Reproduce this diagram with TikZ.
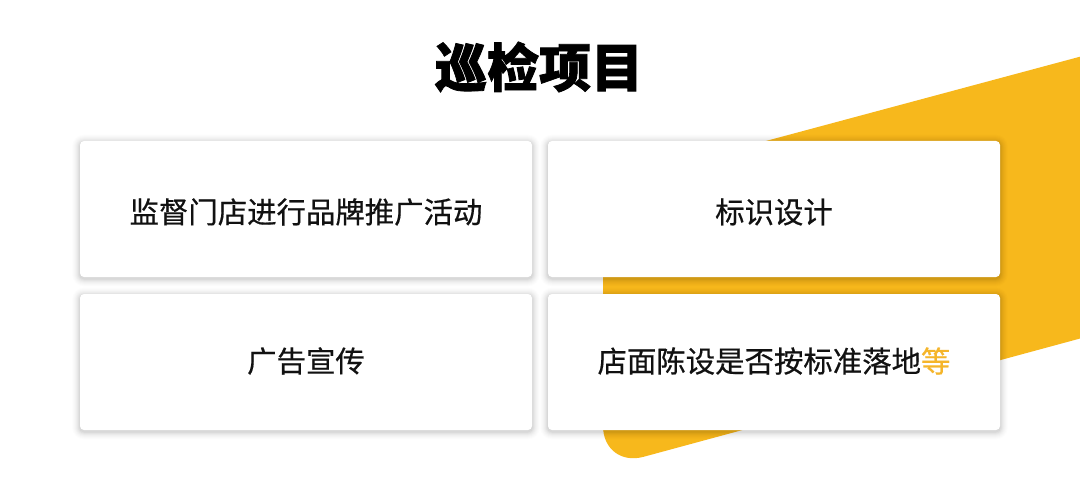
\documentclass[tikz,border=0pt]{standalone}
\usepackage{fontspec}
\newfontfamily\cjk[FakeBold=0.5]{Noto Sans CJK SC}
\newfontfamily\cjkt[BoldFeatures={FakeBold=1.5}]{Noto Sans CJK SC}
\definecolor{ybg}{HTML}{F7B81C}
\definecolor{ytext}{HTML}{F5B52A}
\definecolor{txt}{HTML}{111111}
\tikzset{
  card/.style={fill=white, rounded corners=4pt, minimum width=452pt, minimum height=136pt, inner sep=0pt},
  cardtext/.style={font=\cjk\fontsize{29.4pt}{34pt}\selectfont, text=txt},
}
\newcommand\cardshadow[4]{%
  \foreach \e/\o in {8/0.008,7/0.01,6/0.012,5/0.015,4/0.02,3/0.025,2/0.03,1/0.035}{
    \fill[black, opacity=\o, rounded corners=4pt+\e pt] ({#1-\e},{#2-\e+1.5}) rectangle ({#3+\e},{#4+\e+1.5});
  }}
\begin{document}
\begin{tikzpicture}[x=1pt,y=-1pt]
\useasboundingbox (0,0) rectangle (1080,500);
\clip (0,0) rectangle (1080,500);
\fill[white] (0,0) rectangle (1080,500);
% yellow band
\fill[ybg] (603,184.7) -- (1200,24.5) -- (1200,306) [rounded corners=42pt] -- (603,467.8) [sharp corners] -- cycle;
% title
\node[font=\cjkt\bfseries\fontsize{52pt}{60pt}\selectfont, text=black] (title) at (539,67) {巡检项目};
% shadows
\cardshadow{80}{141}{532}{277}
\cardshadow{548}{141}{1000}{277}
\cardshadow{80}{294}{532}{430}
\cardshadow{548}{294}{1000}{430}
% cards
\node[card] (c1) at (306,209) {};
\node[card] (c2) at (774,209) {};
\node[card] (c3) at (306,362) {};
\node[card] (c4) at (774,362) {};
\node[cardtext] (t1) at (306,212) {监督门店进行品牌推广活动};
\node[cardtext] (t2) at (774,212) {标识设计};
\node[cardtext] (t3) at (306,361) {广告宣传};
\node[cardtext] (t4) at (774,361) {店面陈设是否按标准落地\textcolor{ytext}{等}};
\end{tikzpicture}
\end{document}
